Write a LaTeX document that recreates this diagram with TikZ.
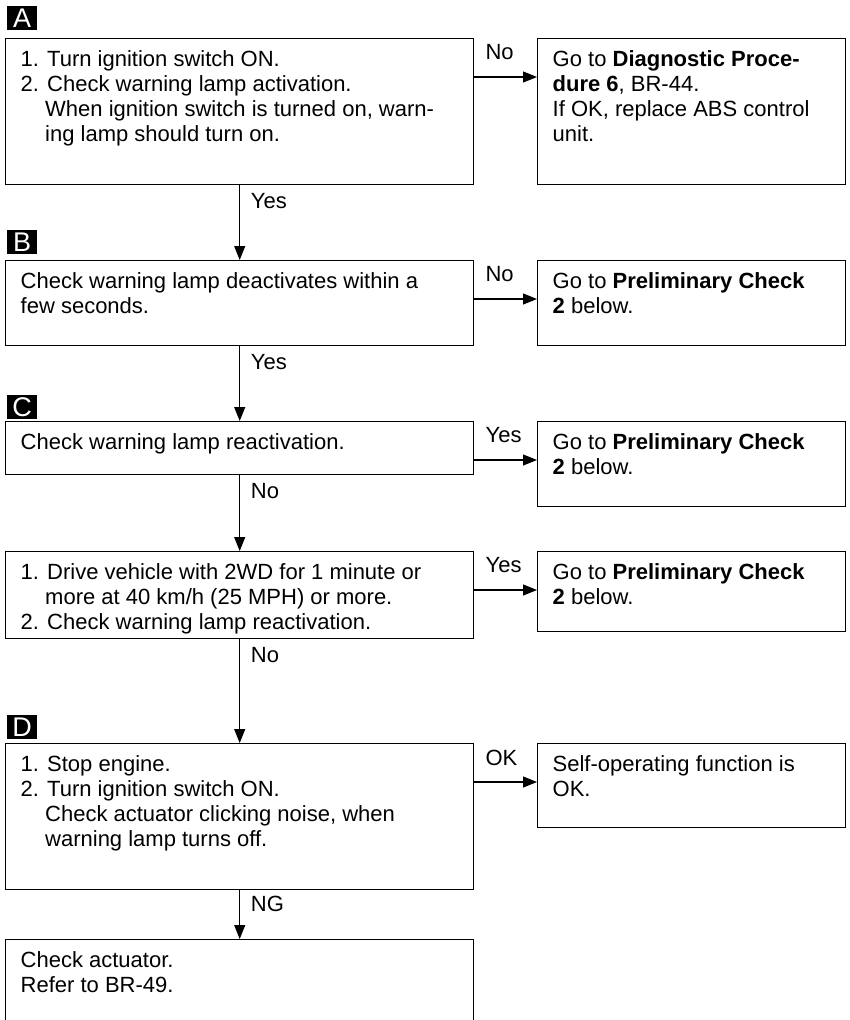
\documentclass[tikz,border=0pt]{standalone}
\usepackage{fontspec}
\setmainfont{Liberation Sans}
\usetikzlibrary{arrows.meta,calc}
\newcommand{\bt}[3]{\parbox[c][#2pt][t]{#1pt}{\raggedright\vspace*{10.5pt}\strut #3}}
\newcommand{\ind}{\hspace*{24.5pt}}
\begin{document}
\begin{tikzpicture}[x=1pt,y=-1pt,
  bx/.style={draw, line width=1.4pt, anchor=north west, inner sep=0pt, font=\fontsize{22}{25}\selectfont},
  lbl/.style={inner sep=0pt, anchor=west, font=\fontsize{22}{25}\selectfont},
  tag/.style={fill=black, text=white, anchor=north west, minimum width=30pt, minimum height=24pt, inner sep=0pt, font=\fontsize{27}{27}\selectfont},
  arr/.style={line width=1.1pt, -{Triangle[length=14pt,width=11pt]}}]
\useasboundingbox (0,0) rectangle (849,1020);

% tags
\node[tag] (ta) at (7,6) {A};
\node[tag] (tb) at (7,230) {B};
\node[tag] (tc) at (7,395) {C};
\node[tag] (td) at (7,715) {D};

% left boxes
\node[bx, minimum width=468pt, minimum height=146pt] (a) at (5,38)
  {\bt{438}{146}{1. Turn ignition switch ON.\\2. Check warning lamp activation.\\\ind When ignition switch is turned on, warn-\\\ind ing lamp should turn on.}};
\node[bx, minimum width=468pt, minimum height=85pt] (b) at (5,260)
  {\bt{438}{85}{Check warning lamp deactivates within a\\few seconds.}};
\node[bx, minimum width=468pt, minimum height=53pt] (c) at (5,421)
  {\bt{438}{53}{Check warning lamp reactivation.}};
\node[bx, minimum width=468pt, minimum height=87pt] (d) at (5,551)
  {\bt{438}{87}{1. Drive vehicle with 2WD for 1 minute or\\\ind more at 40 km/h (25 MPH) or more.\\2. Check warning lamp reactivation.}};
\node[bx, minimum width=468pt, minimum height=146pt] (e) at (5,743)
  {\bt{438}{146}{1. Stop engine.\\2. Turn ignition switch ON.\\\ind Check actuator clicking noise, when\\\ind warning lamp turns off.}};
\node[bx, minimum width=468pt, minimum height=90pt] (f) at (5,939)
  {\bt{438}{90}{Check actuator.\\Refer to BR-49.}};

% right boxes
\node[bx, minimum width=308pt, minimum height=146pt] (ra) at (537,38)
  {\bt{278}{146}{Go to \textbf{Diagnostic Proce-}\\\textbf{dure 6}, BR-44.\\If OK, replace ABS control\\unit.}};
\node[bx, minimum width=308pt, minimum height=85pt] (rb) at (537,260)
  {\bt{278}{85}{Go to \textbf{Preliminary Check}\\\textbf{2} below.}};
\node[bx, minimum width=308pt, minimum height=85pt] (rc) at (537,421)
  {\bt{278}{85}{Go to \textbf{Preliminary Check}\\\textbf{2} below.}};
\node[bx, minimum width=308pt, minimum height=80pt] (rd) at (537,551)
  {\bt{278}{80}{Go to \textbf{Preliminary Check}\\\textbf{2} below.}};
\node[bx, minimum width=308pt, minimum height=84pt] (re) at (537,743)
  {\bt{278}{84}{Self-operating function is\\OK.}};

% vertical connectors
\draw[arr] (a.south) -- (b.north);
\node[lbl] (ya) at ([xshift=11pt,yshift=-16pt]a.south) {Yes};
\draw[arr] (b.south) -- (c.north);
\node[lbl] (yb) at ([xshift=11pt,yshift=-16pt]b.south) {Yes};
\draw[arr] (c.south) -- (d.north);
\node[lbl] (nc) at ([xshift=11pt,yshift=-16pt]c.south) {No};
\draw[arr] (d.south) -- (e.north);
\node[lbl] (nd) at ([xshift=11pt,yshift=-16pt]d.south) {No};
\draw[arr] (e.south) -- (f.north);
\node[lbl] (ge) at ([xshift=11pt,yshift=-14pt]e.south) {NG};

% horizontal connectors
\draw[arr] ([yshift=-39pt]a.north east) -- ([yshift=-39pt]ra.north west);
\node[lbl] (la) at ([xshift=11pt,yshift=-14.5pt]a.north east) {No};
\draw[arr] ([yshift=-39pt]b.north east) -- ([yshift=-39pt]rb.north west);
\node[lbl] (lb) at ([xshift=11pt,yshift=-14.5pt]b.north east) {No};
\draw[arr] ([yshift=-39pt]c.north east) -- ([yshift=-39pt]rc.north west);
\node[lbl] (lc) at ([xshift=11pt,yshift=-14.5pt]c.north east) {Yes};
\draw[arr] ([yshift=-39pt]d.north east) -- ([yshift=-39pt]rd.north west);
\node[lbl] (ld) at ([xshift=11pt,yshift=-14.5pt]d.north east) {Yes};
\draw[arr] ([yshift=-39pt]e.north east) -- ([yshift=-39pt]re.north west);
\node[lbl] (le) at ([xshift=11pt,yshift=-14.5pt]e.north east) {OK};
\end{tikzpicture}
\end{document}
